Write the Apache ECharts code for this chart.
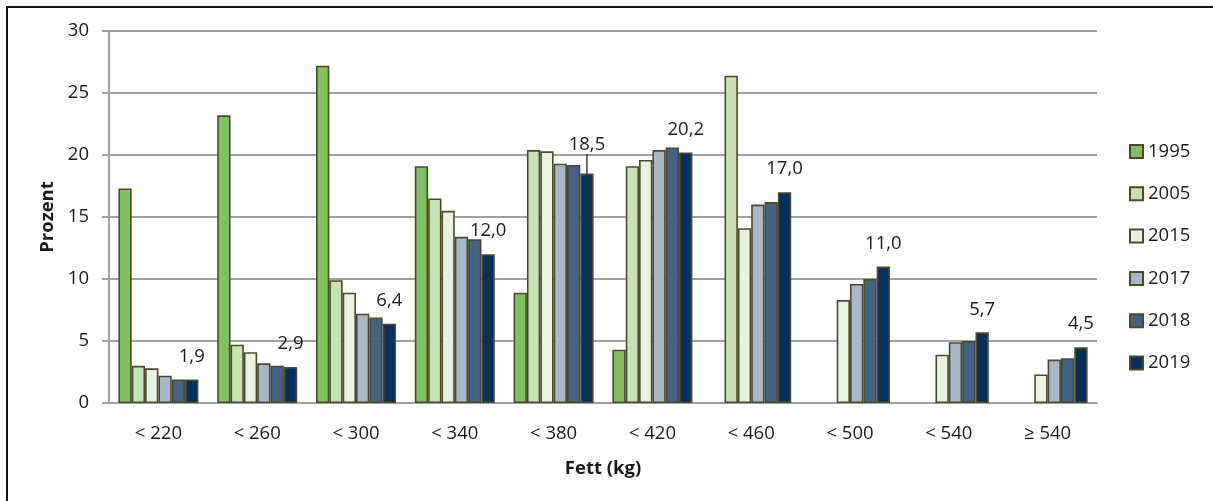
<!DOCTYPE html>
<html>
<head>
<meta charset="utf-8">
<script src="https://cdn.jsdelivr.net/npm/echarts@6/dist/echarts.min.js"></script>
<style>
html,body{margin:0;padding:0;background:#fff;}
#wrap{position:relative;width:1213px;height:501px;overflow:hidden;}
#chart{position:absolute;left:0;top:0;width:1213px;height:501px;}
#frame{position:absolute;left:6px;top:6px;width:1300px;height:600px;border-top:2px solid #151515;border-left:2px solid #151515;pointer-events:none;}
</style>
</head>
<body>
<div id="wrap"><div id="chart"></div><div id="frame"></div></div>
<script>
const categories = ['< 220', '< 260', '< 300', '< 340', '< 380', '< 420', '< 460', '< 500', '< 540', '≥ 540'];
const seriesNames = ['1995', '2005', '2015', '2017', '2018', '2019'];
const y1995 = [17.3, 23.2, 27.2, 19.1, 8.9, 4.3, null, null, null, null];
const y2005 = [3.0, 4.7, 9.9, 16.5, 20.4, 19.1, 26.4, null, null, null];
const y2015 = [2.8, 4.1, 8.9, 15.5, 20.3, 19.6, 14.1, 8.3, 3.9, 2.3];
const y2017 = [2.2, 3.2, 7.2, 13.4, 19.3, 20.4, 16.0, 9.6, 4.9, 3.5];
const y2018 = [1.9, 3.0, 6.9, 13.2, 19.2, 20.6, 16.2, 10.0, 5.0, 3.6];
const y2019 = [1.9, 2.9, 6.4, 12.0, 18.5, 20.2, 17.0, 11.0, 5.7, 4.5];
const yTicks = [0, 5, 10, 15, 20, 25, 30];
const movedLabelIndex = 4;

const colors = ['#7dc25f', '#c5e3b4', '#e7f2df', '#a7b9c9', '#426386', '#06305a'];
const allData = [y1995, y2005, y2015, y2017, y2018, y2019];
const FONT = '"Open Sans", "Noto Sans", sans-serif';
const FS = 18.5;

const chart = echarts.init(document.getElementById('chart'), null, {renderer: 'canvas'});
const series = seriesNames.map((name, i) => {
  const isLast = i === seriesNames.length - 1;
  const s = {
    name: name,
    type: 'bar',
    data: isLast
      ? allData[i].map((v, k) => k === movedLabelIndex ? {value: v, labelLine: {show: true}} : v)
      : allData[i],
    barGap: '0%',
    barCategoryGap: '19%',
    itemStyle: {color: colors[i], borderColor: '#4b4a2c', borderWidth: 1.6},
    emphasis: {disabled: true},
    animation: false
  };
  if (isLast) {
    s.label = {
      show: true,
      position: 'top',
      distance: 14,
      fontFamily: FONT,
      fontSize: FS,
      lineHeight: 18,
      color: '#1a1a1a',
      formatter: p => p.value.toFixed(1).replace('.', ',')
    };
    s.labelLine = {show: false, lineStyle: {color: '#111', width: 1.2}};
    s.labelLayout = function (params) {
      if (params.dataIndex === movedLabelIndex) return {dy: -6};
      return {};
    };
  }
  return s;
});

chart.setOption({
  backgroundColor: '#fff',
  textStyle: {fontFamily: FONT},
  grid: {left: 109, right: 116, top: 31, bottom: 98, containLabel: false},
  legend: {
    orient: 'vertical',
    left: 1129,
    top: 142,
    padding: 0,
    itemWidth: 13,
    itemHeight: 13,
    itemGap: 23.3,
    icon: 'rect',
    textStyle: {fontFamily: FONT, fontSize: FS, color: '#1a1a1a', lineHeight: 18},
    data: seriesNames
  },
  xAxis: {
    type: 'category',
    data: categories,
    axisLine: {show: true, lineStyle: {color: '#a0a0a0', width: 2}},
    axisTick: {show: false},
    axisLabel: {fontFamily: FONT, fontSize: FS, color: '#1a1a1a', margin: 21, interval: 0},
    name: 'Fett (kg)',
    nameLocation: 'middle',
    nameGap: 56,
    nameTextStyle: {fontFamily: FONT, fontSize: FS, fontWeight: 'bold', color: '#1a1a1a'}
  },
  yAxis: {
    type: 'value',
    min: yTicks[0],
    max: yTicks[yTicks.length - 1],
    interval: 5,
    axisLine: {show: true, lineStyle: {color: '#a0a0a0', width: 2}},
    axisTick: {show: true, length: 7, lineStyle: {color: '#a0a0a0', width: 2}},
    splitLine: {show: true, lineStyle: {color: '#a0a0a0', width: 2}},
    axisLabel: {fontFamily: FONT, fontSize: FS, color: '#1a1a1a', margin: 20},
    name: 'Prozent',
    nameLocation: 'middle',
    nameGap: 51,
    nameRotate: 90,
    nameTextStyle: {fontFamily: FONT, fontSize: FS, fontWeight: 'bold', color: '#1a1a1a'}
  },
  series: series
});
</script>
</body>
</html>
